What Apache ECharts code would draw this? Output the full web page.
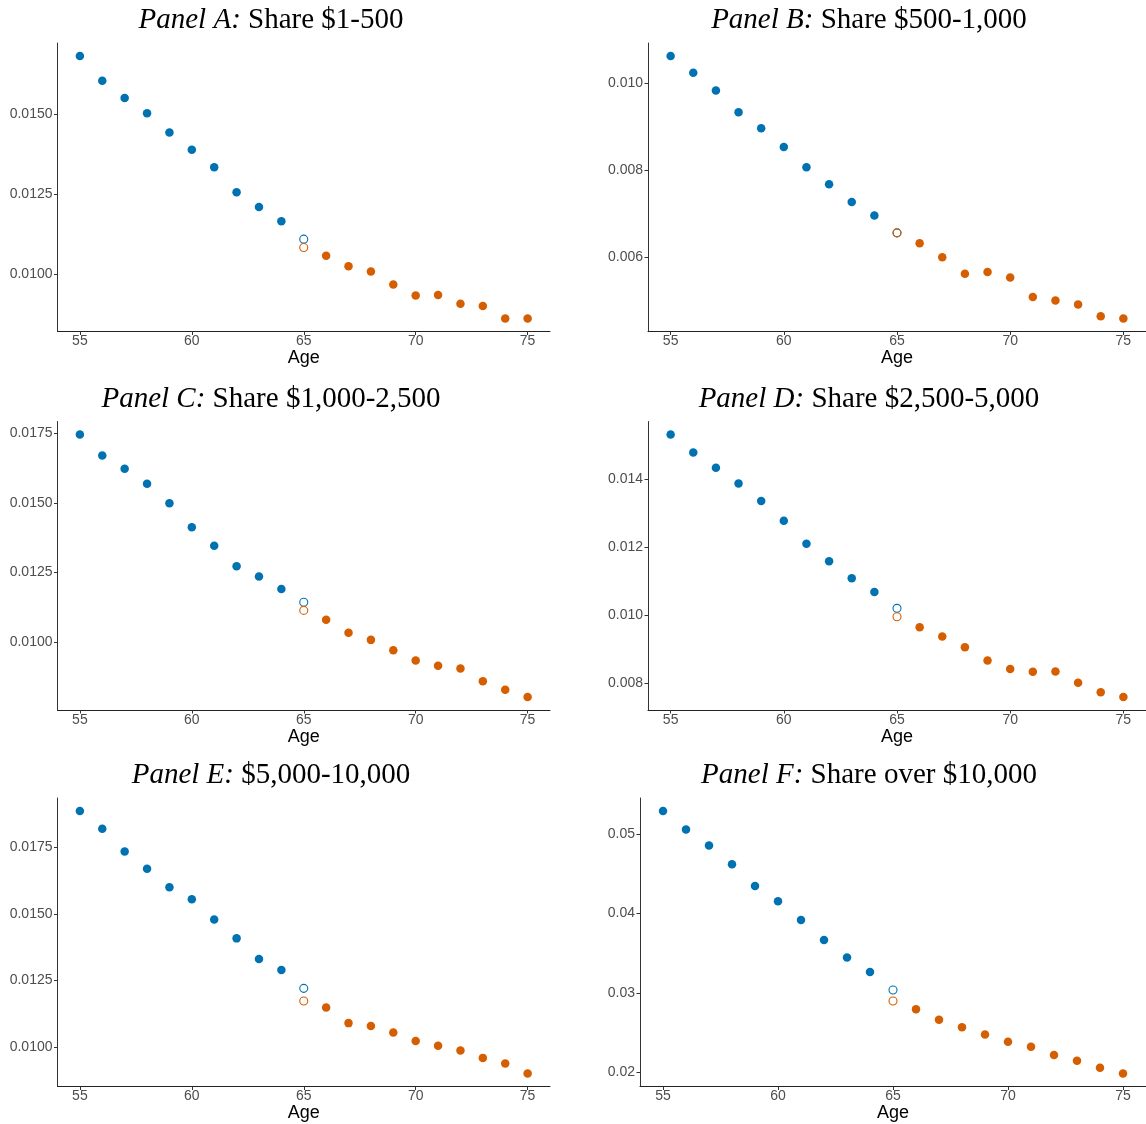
<!DOCTYPE html>
<html>
<head>
<meta charset="utf-8">
<script src="https://cdn.jsdelivr.net/npm/echarts@6/dist/echarts.min.js"></script>
<style>html,body{margin:0;padding:0;background:#fff;}#c{width:1146px;height:1124px;}</style>
</head>
<body>
<div id="c"></div>
<script>
// Ages 55..65 (blue, before) and 65..75 (orange, after)
const agesBefore = [55, 56, 57, 58, 59, 60, 61, 62, 63, 64, 65];
const agesAfter  = [65, 66, 67, 68, 69, 70, 71, 72, 73, 74, 75];
const xTicks = [55, 60, 65, 70, 75];

const titlesItalic = ['Panel A:', 'Panel B:', 'Panel C:', 'Panel D:', 'Panel E:', 'Panel F:'];
const titlesPlain  = [' Share $1-500', ' Share $500-1,000', ' Share $1,000-2,500', ' Share $2,500-5,000', ' $5,000-10,000', ' Share over $10,000'];

// Panel A
const aBlue   = [0.01683, 0.01606, 0.01552, 0.01504, 0.01444, 0.01390, 0.01335, 0.01257, 0.01211, 0.01166, 0.01110];
const aOrange = [0.01084, 0.01058, 0.01025, 0.01009, 0.00968, 0.00934, 0.00935, 0.00908, 0.00901, 0.00862, 0.00862];
const aTicks  = [0.0100, 0.0125, 0.0150];
// Panel B
const bBlue   = [0.010632, 0.01025, 0.00984, 0.00934, 0.00897, 0.00854, 0.00807, 0.00768, 0.00727, 0.00696, 0.00656];
const bOrange = [0.00656, 0.00632, 0.00600, 0.00562, 0.00566, 0.00553, 0.00508, 0.00500, 0.00491, 0.00464, 0.00459];
const bTicks  = [0.006, 0.008, 0.010];
// Panel C
const cBlue   = [0.01746, 0.01671, 0.01623, 0.01569, 0.01499, 0.01413, 0.01346, 0.01273, 0.01236, 0.01191, 0.01143];
const cOrange = [0.01114, 0.01080, 0.01034, 0.01008, 0.00971, 0.00934, 0.00915, 0.00905, 0.00859, 0.00829, 0.00803];
const cTicks  = [0.0100, 0.0125, 0.0150, 0.0175];
// Panel D
const dBlue   = [0.01532, 0.01479, 0.01434, 0.01388, 0.01336, 0.01278, 0.01210, 0.01159, 0.01109, 0.01068, 0.01020];
const dOrange = [0.00995, 0.00964, 0.00937, 0.00905, 0.00866, 0.00841, 0.00833, 0.00834, 0.00801, 0.00773, 0.00759];
const dTicks  = [0.008, 0.010, 0.012, 0.014];
// Panel E
const eBlue   = [0.01884, 0.01818, 0.01733, 0.01668, 0.01599, 0.01554, 0.01479, 0.01408, 0.01331, 0.01290, 0.01221];
const eOrange = [0.01174, 0.01149, 0.01091, 0.01080, 0.01056, 0.01024, 0.01006, 0.00989, 0.00961, 0.00940, 0.00903];
const eTicks  = [0.0100, 0.0125, 0.0150, 0.0175];
// Panel F
const fBlue   = [0.05290, 0.05059, 0.04857, 0.04621, 0.04348, 0.04156, 0.03920, 0.03668, 0.03445, 0.03264, 0.03038];
const fOrange = [0.02899, 0.02794, 0.02663, 0.02567, 0.02478, 0.02386, 0.02323, 0.02218, 0.02147, 0.02059, 0.01987];
const fTicks  = [0.02, 0.03, 0.04, 0.05];

const panels = [
  {blue: aBlue, orange: aOrange, ticks: aTicks, dec: 4},
  {blue: bBlue, orange: bOrange, ticks: bTicks, dec: 3},
  {blue: cBlue, orange: cOrange, ticks: cTicks, dec: 4},
  {blue: dBlue, orange: dOrange, ticks: dTicks, dec: 3},
  {blue: eBlue, orange: eOrange, ticks: eTicks, dec: 4},
  {blue: fBlue, orange: fOrange, ticks: fTicks, dec: 2}
];

// layout (pixels)
const gridLeft  = [57.5, 648, 57.5, 648, 57.5, 640];
const gridRight = [550, 1150, 550, 1150, 550, 1150];
const gridTop   = [43, 43, 421.5, 421.5, 798, 798];
const gridH = 288.5;
const titleX = [271, 869, 271, 869, 271, 869];
const titleTop = [6, 6, 384.5, 384.5, 761, 761];

const BLUE = '#0072B2', ORANGE = '#D55E00';
const grids = [], xAxes = [], yAxes = [], series = [], titles = [];

panels.forEach((p, i) => {
  const all = p.blue.concat(p.orange);
  const lo = Math.min(...all), hi = Math.max(...all);
  const pad = (hi - lo) * 0.05;
  grids.push({left: gridLeft[i], top: gridTop[i], width: gridRight[i] - gridLeft[i], height: gridH, containLabel: false});
  xAxes.push({
    type: 'value', gridIndex: i, min: 54, max: 76,
    name: 'Age', nameLocation: 'middle', nameGap: 17,
    nameTextStyle: {fontFamily: 'Liberation Sans', fontSize: 18, color: '#000', verticalAlign: 'middle', lineHeight: 18},
    splitLine: {show: false},
    axisLine: {show: true, onZero: false, lineStyle: {color: '#222', width: 1}},
    axisTick: {show: true, length: 3.5, customValues: xTicks, lineStyle: {color: '#333'}},
    axisLabel: {customValues: xTicks, margin: 3, fontFamily: 'Liberation Sans', fontSize: 14, color: '#4d4d4d'}
  });
  yAxes.push({
    type: 'value', gridIndex: i, min: lo - pad, max: hi + pad,
    splitLine: {show: false},
    axisLine: {show: true, onZero: false, lineStyle: {color: '#333', width: 1}},
    axisTick: {show: true, length: 3.5, customValues: p.ticks, lineStyle: {color: '#333'}},
    axisLabel: {customValues: p.ticks, margin: 5, fontFamily: 'Liberation Sans', fontSize: 14, color: '#4d4d4d',
      formatter: v => v.toFixed(p.dec)}
  });
  const n = p.blue.length;
  series.push({
    type: 'scatter', xAxisIndex: i, yAxisIndex: i, symbol: 'circle', symbolSize: 8.5,
    itemStyle: {color: BLUE, opacity: 1},
    data: agesBefore.slice(0, n - 1).map((a, k) => [a, p.blue[k]])
  });
  series.push({
    type: 'scatter', xAxisIndex: i, yAxisIndex: i, symbol: 'circle', symbolSize: 8,
    itemStyle: {color: '#fff', borderColor: BLUE, borderWidth: 1.1, opacity: 1},
    data: [[agesBefore[n - 1], p.blue[n - 1]]]
  });
  series.push({
    type: 'scatter', xAxisIndex: i, yAxisIndex: i, symbol: 'circle', symbolSize: 8,
    itemStyle: {color: i === 1 ? 'rgba(255,255,255,0)' : '#fff', borderColor: ORANGE, borderWidth: 1.1, opacity: 1},
    data: [[agesAfter[0], p.orange[0]]]
  });
  series.push({
    type: 'scatter', xAxisIndex: i, yAxisIndex: i, symbol: 'circle', symbolSize: 8.5,
    itemStyle: {color: ORANGE, opacity: 1},
    data: agesAfter.slice(1).map((a, k) => [a, p.orange[k + 1]])
  });
  titles.push({
    text: '{i|' + titlesItalic[i] + '}' + titlesPlain[i],
    left: titleX[i], top: titleTop[i], textAlign: 'center', padding: 0,
    textStyle: {fontFamily: 'Liberation Serif', fontSize: 29, fontWeight: 'normal', color: '#000',
      rich: {i: {fontFamily: 'Liberation Serif', fontSize: 29, fontStyle: 'italic', color: '#000'}}}
  });
});

const chart = echarts.init(document.getElementById('c'), null, {renderer: 'canvas'});
chart.setOption({
  animation: false,
  backgroundColor: '#fff',
  title: titles,
  grid: grids,
  xAxis: xAxes,
  yAxis: yAxes,
  series: series
});
</script>
</body>
</html>
